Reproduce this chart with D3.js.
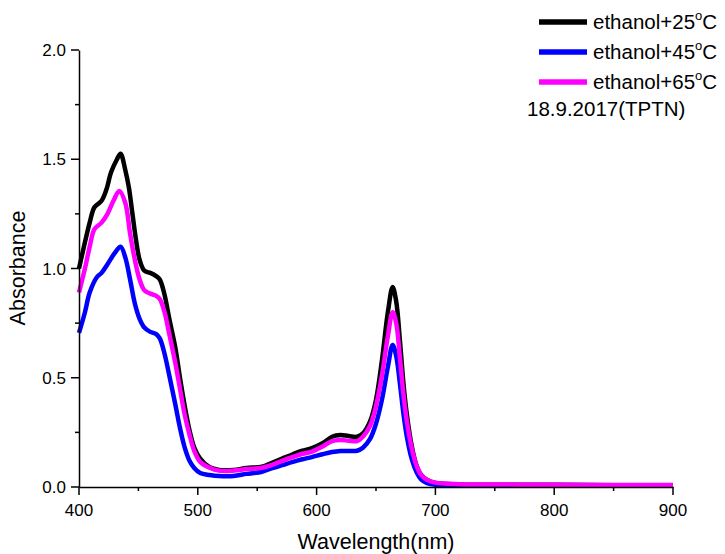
<!DOCTYPE html>
<html><head><meta charset="utf-8">
<script src="https://cdn.jsdelivr.net/npm/d3@7"></script>
<style>body{margin:0;background:#fff}svg{display:block}text{font-family:"Liberation Sans",Arial,sans-serif;fill:#000}</style>
</head><body>
<svg id="c" width="725" height="554"></svg>
<script>
const xTicks=[400,500,600,700,800,900];
const yTicks=[0,0.5,1.0,1.5,2.0];
const seriesNames=["ethanol+25","ethanol+45","ethanol+65"];
const seriesColors=["#000000","#0000ff","#ff00ff"];
const wl25=[400,405,409,413,419,423,427,432,435,439,442,445,448,451,455,460,465,468,472,476,481,485,489,493,497,502,510,518,530,541,554,562,571,580,588,596,605,613,620,627,634,639,645,650,655,660,664,667,670,673,676,680,684,688,693,700,720,760,800,850,900];
const a25=[1.00,1.12,1.21,1.28,1.31,1.36,1.44,1.50,1.525,1.45,1.37,1.25,1.13,1.04,0.99,0.98,0.965,0.95,0.88,0.77,0.64,0.50,0.37,0.26,0.18,0.13,0.09,0.078,0.078,0.087,0.093,0.11,0.13,0.15,0.166,0.178,0.20,0.23,0.238,0.233,0.23,0.245,0.30,0.40,0.58,0.80,0.915,0.85,0.68,0.48,0.33,0.19,0.10,0.055,0.032,0.018,0.012,0.01,0.01,0.008,0.008];
const wl45=[400,405,409,415,419,424,430,435,439,443,447,451,455,460,465,468,472,476,481,485,489,493,497,502,510,518,530,541,554,562,571,580,588,596,605,613,620,627,634,639,645,650,655,660,664,667,670,673,676,680,684,688,693,700,720,800,900];
const a45=[0.705,0.80,0.89,0.96,0.98,1.02,1.07,1.10,1.05,0.95,0.84,0.77,0.73,0.71,0.70,0.68,0.61,0.51,0.38,0.27,0.18,0.12,0.087,0.064,0.055,0.05,0.05,0.06,0.07,0.085,0.10,0.115,0.127,0.137,0.15,0.16,0.165,0.165,0.166,0.18,0.22,0.29,0.40,0.55,0.65,0.60,0.48,0.34,0.23,0.13,0.07,0.035,0.018,0.01,0.008,0.006,0.006];
const wl65=[400,405,409,413,419,424,429,434,439,443,447,451,455,460,465,468,472,476,481,485,489,493,497,502,510,518,530,541,554,562,571,580,588,596,605,613,620,627,634,639,645,650,655,660,664,667,670,673,676,680,684,688,693,700,720,760,800,850,900];
const a65=[0.89,1.0,1.10,1.18,1.21,1.25,1.31,1.355,1.30,1.16,1.04,0.95,0.90,0.885,0.875,0.86,0.80,0.70,0.57,0.45,0.33,0.24,0.165,0.115,0.088,0.075,0.075,0.082,0.088,0.10,0.12,0.138,0.152,0.162,0.185,0.21,0.215,0.212,0.21,0.23,0.28,0.37,0.51,0.69,0.80,0.75,0.60,0.43,0.30,0.18,0.10,0.055,0.032,0.02,0.013,0.011,0.01,0.009,0.009];
const noteText="18.9.2017(TPTN)";

const svg=d3.select("#c");
const x=d3.scaleLinear().domain([400,900]).range([79,673]);
const y=d3.scaleLinear().domain([0,2]).range([487,50]);

const series=[wl25.map((w,i)=>[w,a25[i]]),wl45.map((w,i)=>[w,a45[i]]),wl65.map((w,i)=>[w,a65[i]])];
const line=d3.line().x(d=>x(d[0])).y(d=>y(d[1])).curve(d3.curveCatmullRom.alpha(0.5));
series.forEach((s,i)=>{
  svg.append("path").datum(s).attr("d",line).attr("fill","none").attr("stroke",seriesColors[i]).attr("stroke-width",4.5).attr("stroke-linejoin","round");
});

// axes
const xa=svg.append("g").attr("transform","translate(0,487)");
xa.call(d3.axisBottom(x).tickValues(d3.range(400,901,50)).tickSize(0).tickFormat(""));
xa.select(".domain").attr("stroke-width",1.5);
xa.selectAll(".tk").data(d3.range(400,901,50)).enter().append("line").attr("x1",d=>x(d)).attr("x2",d=>x(d)).attr("y1",0).attr("y2",d=>d%100===0?8:4).attr("stroke","#000").attr("stroke-width",1.5);
xa.selectAll(".lb").data(xTicks).enter().append("text").attr("x",d=>x(d)).attr("y",29).attr("text-anchor","middle").attr("font-size",17).attr("fill","#000").text(d=>d);

const ya=svg.append("g").attr("transform","translate(79,0)");
ya.call(d3.axisLeft(y).tickValues(d3.range(0,2.01,0.25)).tickSize(0).tickFormat(""));
ya.select(".domain").attr("stroke-width",1.5);
ya.selectAll(".tk").data(d3.range(0,2.01,0.25)).enter().append("line").attr("y1",d=>y(d)).attr("y2",d=>y(d)).attr("x1",0).attr("x2",(d,i)=>i%2===0?-8:-4).attr("stroke","#000").attr("stroke-width",1.5);
ya.selectAll(".lb").data(yTicks).enter().append("text").attr("x",-13).attr("y",d=>y(d)+6).attr("text-anchor","end").attr("font-size",17).attr("fill","#000").text(d=>d.toFixed(1));

svg.append("text").attr("x",376).attr("y",549).attr("text-anchor","middle").attr("font-size",21.5).text("Wavelength(nm)");
svg.append("text").attr("transform","translate(25,268) rotate(-90)").attr("text-anchor","middle").attr("font-size",21.5).text("Absorbance");

// legend
const lg=svg.append("g");
seriesNames.forEach((n,i)=>{
  const yy=22+i*30;
  lg.append("line").attr("x1",539).attr("x2",587).attr("y1",yy).attr("y2",yy).attr("stroke",seriesColors[i]).attr("stroke-width",5.5);
  const t=lg.append("text").attr("x",593).attr("y",yy+7).attr("font-size",20.5);
  t.append("tspan").text(n);
  t.append("tspan").attr("dy",-9).attr("font-size",13).text("o");
  t.append("tspan").attr("dy",9).text("C");
});
lg.append("text").attr("x",527).attr("y",116).attr("font-size",20.5).text(noteText);
</script>
</body></html>
